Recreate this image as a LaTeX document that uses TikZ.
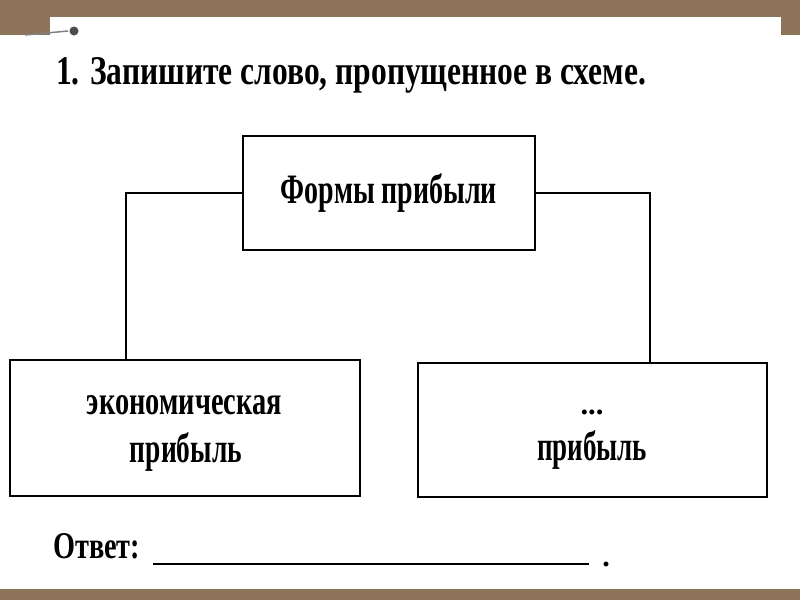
\documentclass[tikz,border=0pt]{standalone}
\usepackage{fontspec}
\usepackage{graphicx}
\setmainfont{Liberation Serif}
\usetikzlibrary{positioning}
\definecolor{frame}{RGB}{140,115,89}

\begin{document}
\begin{tikzpicture}[
  x=1pt, y=-1pt,
  box/.style  = {rectangle, draw, line width=1.8pt, inner sep=0pt},
  link/.style = {line width=1.4pt},
  txt/.style  = {inner sep=0pt, anchor=base, font=\bfseries},
]
\useasboundingbox (0,0) rectangle (800,600);
% frame of the slide
\fill[frame] (0,0) rectangle (800,35);
\fill[white] (50,17) rectangle (781,35);
\fill[frame] (0,589) rectangle (800,600);
\draw[gray, line width=1.5pt] (25,35) -- (68,31);
\fill[black!70] (74,31) circle (4.5);

\node[txt, anchor=base west] (task) at (56,84)
  {\resizebox{590pt}{27pt}{1. Запишите слово, пропущенное в схеме.}};

% scheme
\node[box, minimum width=292pt, minimum height=114pt] (forms) at (389,193) {};
\node[box, minimum width=350pt, minimum height=136pt] (econ)  at (185,428) {};
\node[box, minimum width=349pt, minimum height=134pt] (miss)  at (592.5,430) {};

\node[txt] (formsT) at (389,203) {\resizebox{216pt}{30pt}{Формы прибыли}};
\node[txt] (econT1) at (184.5,414) {\resizebox{195pt}{19pt}{экономическая}};
\node[txt] (econT2) at (186,462) {\resizebox{112pt}{30pt}{прибыль}};
\node[txt] (missT1) at (592,414) {\resizebox{23pt}{!}{...}};
\node[txt] (missT2) at (592,460) {\resizebox{110pt}{30pt}{прибыль}};

\path (econ.north west) ++(117,0) coordinate (lfoot);
\path (miss.north west) ++(233,0) coordinate (rfoot);
\draw[link] (forms.west) -| (lfoot);
\draw[link] (forms.east) -| (rfoot);

% answer line
\node[txt, anchor=base west] (answer) at (53,558) {\resizebox{87pt}{25pt}{Ответ:}};
\draw[line width=2.5pt] (153,564) -- (589,564);
\node[txt] (stop) at (606,566) {\fontsize{30}{30}\selectfont .};
\end{tikzpicture}
\end{document}
